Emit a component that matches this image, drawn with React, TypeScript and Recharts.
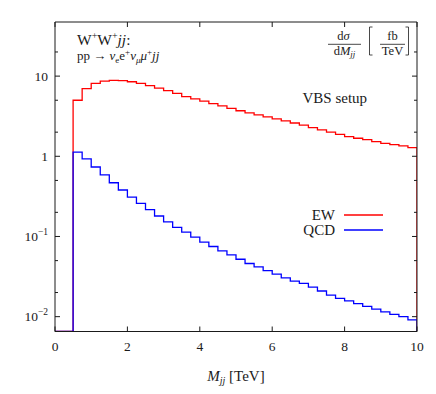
import React from "react";
import { LineChart, Line, XAxis, YAxis, Legend } from "recharts";

// lower bin edges [TeV], bin width 0.25
const binLow = [
  0.5, 0.75, 1.0, 1.25, 1.5, 1.75, 2.0, 2.25, 2.5, 2.75,
  3.0, 3.25, 3.5, 3.75, 4.0, 4.25, 4.5, 4.75, 5.0, 5.25,
  5.5, 5.75, 6.0, 6.25, 6.5, 6.75, 7.0, 7.25, 7.5, 7.75,
  8.0, 8.25, 8.5, 8.75, 9.0, 9.25, 9.5, 9.75,
];

// dσ/dMjj [fb/TeV]
const ewValues = [
  5.0, 7.0, 8.1, 8.66, 8.84, 8.8, 8.5, 8.1, 7.6, 7.1,
  6.6, 6.1, 5.55, 5.2, 4.87, 4.55, 4.26, 3.95, 3.7, 3.48,
  3.29, 3.1, 2.93, 2.76, 2.6, 2.45, 2.28, 2.13, 2.0, 1.88,
  1.76, 1.68, 1.61, 1.52, 1.45, 1.4, 1.35, 1.28,
];
const qcdValues = [
  1.13, 0.926, 0.735, 0.585, 0.468, 0.38, 0.31, 0.259, 0.216, 0.18,
  0.152, 0.13, 0.113, 0.098, 0.085, 0.075, 0.066, 0.059, 0.052, 0.046,
  0.0417, 0.0376, 0.0339, 0.0304, 0.0277, 0.026, 0.0233, 0.0209, 0.0186, 0.0169,
  0.0157, 0.0145, 0.0134, 0.0124, 0.0115, 0.0107, 0.01, 0.0091,
];

const xTicks = [0, 2, 4, 6, 8, 10];
const yMajor = [0.01, 0.1, 1, 10];
const yMinor = [0.008, 0.02, 0.05, 0.08, 0.2, 0.5, 0.8, 2, 5, 8, 20];
const yLabels: Record<string, [string, string]> = {
  "0.01": ["10", "−2"],
  "0.1": ["10", "−1"],
  "1": ["1", ""],
  "10": ["10", ""],
};

const seriesColors: Record<string, string> = { EW: "#ff0000", QCD: "#0000ff" };

const X_MIN = 0, X_MAX = 10;
const Y_MIN = 0.00653, Y_MAX = 47.3;

const W = 428, H = 386;
const FONT = "'Liberation Serif', serif";
const INK = "#1a1a1a";

// histogram outline: start on the floor, step through bins, drop back to floor
const rows = [
  { m: X_MIN, ew: Y_MIN, qcd: Y_MIN },
  ...binLow.map((m, i) => ({ m, ew: ewValues[i], qcd: qcdValues[i] })),
  { m: X_MAX, ew: ewValues[ewValues.length - 1], qcd: qcdValues[qcdValues.length - 1] },
  { m: X_MAX, ew: Y_MIN, qcd: Y_MIN },
];

const yTicks = [...yMajor, ...yMinor].sort((a, b) => a - b);
const tickLen = (v: number) => (yMajor.includes(v) ? 5 : 3);

function LeftTick({ x, y, payload }: any) {
  const v = payload.value;
  const lab = yLabels[String(v)];
  return (
    <g>
      <line x1={x} x2={x + tickLen(v)} y1={y} y2={y} stroke={INK} strokeWidth={1} />
      {lab && (
        <text x={x - 7} y={y + 4.5} textAnchor="end" fontFamily={FONT} fontSize={13.5} fill={INK}>
          {lab[0]}
          {lab[1] && <tspan fontSize={9.5} dy={-6}>{lab[1]}</tspan>}
        </text>
      )}
    </g>
  );
}

function RightTick({ x, y, payload }: any) {
  return <line x1={x} x2={x - tickLen(payload.value)} y1={y} y2={y} stroke={INK} strokeWidth={1} />;
}

function BottomTick({ x, y, payload }: any) {
  return (
    <g>
      <line x1={x} x2={x} y1={y} y2={y - 5} stroke={INK} strokeWidth={1} />
      <text x={x} y={y + 19.5} textAnchor="middle" fontFamily={FONT} fontSize={13.5} fill={INK}>
        {payload.value}
      </text>
    </g>
  );
}

function TopTick({ x, y }: any) {
  return <line x1={x} x2={x} y1={y} y2={y + 5} stroke={INK} strokeWidth={1} />;
}

function KeyBox({ payload }: any) {
  return (
    <div style={{ fontFamily: FONT, fontSize: 15, color: INK }}>
      {(payload || []).map((p: any) => (
        <div key={p.value} style={{ display: "flex", alignItems: "center", height: 14.5 }}>
          <span style={{ width: 40, textAlign: "right", lineHeight: "14px" }}>{p.value}</span>
          <svg width={39} height={4} style={{ marginLeft: 9, display: "block" }}>
            <line x1={0} x2={39} y1={2} y2={2} stroke={seriesColors[p.value] || p.color} strokeWidth={1.5} />
          </svg>
        </div>
      ))}
    </div>
  );
}

export default function App() {
  return (
    <div style={{ position: "relative", width: W, height: H }}>
      <LineChart
        width={W}
        height={H}
        data={rows}
        margin={{ top: 13, right: 18, left: 0, bottom: 0 }}
      >
        <XAxis
          dataKey="m"
          type="number"
          domain={[X_MIN, X_MAX]}
          ticks={xTicks}
          allowDataOverflow
          height={62.5}
          tickSize={0}
          tickMargin={0}
          tickLine={false}
          tick={<BottomTick />}
          axisLine={{ stroke: INK, strokeWidth: 1 }}
        />
        <XAxis
          xAxisId="top"
          orientation="top"
          dataKey="m"
          type="number"
          domain={[X_MIN, X_MAX]}
          ticks={xTicks}
          allowDataOverflow
          height={1}
          tickSize={0}
          tickMargin={0}
          tickLine={false}
          tick={<TopTick />}
          axisLine={{ stroke: INK, strokeWidth: 1 }}
        />
        <YAxis
          scale="log"
          type="number"
          domain={[Y_MIN, Y_MAX]}
          ticks={yTicks}
          allowDataOverflow
          width={47}
          tickSize={0}
          tickMargin={0}
          tickLine={false}
          tick={<LeftTick />}
          axisLine={{ stroke: INK, strokeWidth: 1 }}
        />
        <YAxis
          yAxisId="right"
          orientation="right"
          scale="log"
          type="number"
          domain={[Y_MIN, Y_MAX]}
          ticks={yTicks}
          allowDataOverflow
          width={1}
          tickSize={0}
          tickMargin={0}
          tickLine={false}
          tick={<RightTick />}
          axisLine={{ stroke: INK, strokeWidth: 1 }}
        />
        <Legend
          layout="vertical"
          align="center"
          verticalAlign="middle"
          content={<KeyBox />}
          wrapperStyle={{ left: 287, top: 200, width: 100 }}
        />
        <Line
          dataKey="ew"
          name="EW"
          type="stepAfter"
          stroke={seriesColors.EW}
          strokeWidth={1.3}
          dot={false}
          isAnimationActive={false}
        />
        <Line
          dataKey="qcd"
          name="QCD"
          type="stepAfter"
          stroke={seriesColors.QCD}
          strokeWidth={1.3}
          dot={false}
          isAnimationActive={false}
        />
      </LineChart>

      {/* annotations */}
      <svg
        width={W}
        height={H}
        style={{ position: "absolute", left: 0, top: 0, pointerEvents: "none" }}
        fontFamily={FONT}
        fill={INK}
      >
        <text x={69} y={36.5} fontSize={15.5}>
          W<tspan fontSize={10} dy={-6}>+</tspan>
          <tspan dy={6}>W</tspan><tspan fontSize={10} dy={-6}>+</tspan>
          <tspan dy={6} fontStyle="italic">jj</tspan>:
        </text>
        <text x={69} y={52} fontSize={13}>
          pp → <tspan fontStyle="italic">ν</tspan><tspan fontSize={9} dy={2.5}>e</tspan>
          <tspan dy={-2.5}>e</tspan><tspan fontSize={9} dy={-5}>+</tspan>
          <tspan dy={5} fontStyle="italic">ν</tspan><tspan fontSize={9} dy={2.5} fontStyle="italic">μ</tspan>
          <tspan dy={-2.5} fontStyle="italic">μ</tspan><tspan fontSize={9} dy={-5}>+</tspan>
          <tspan dy={5} fontStyle="italic">jj</tspan>
        </text>

        {/* dσ/dMjj [fb/TeV] */}
        <text x={335.5} y={32} fontSize={12.5} textAnchor="middle">
          d<tspan fontStyle="italic">σ</tspan>
        </text>
        <line x1={320} x2={353} y1={36.3} y2={36.3} stroke={INK} strokeWidth={0.8} />
        <text x={336.5} y={46.5} fontSize={12.5} textAnchor="middle">
          d<tspan fontStyle="italic">M</tspan><tspan fontSize={9} dy={2} fontStyle="italic">jj</tspan>
        </text>
        <path d="M364.5,19 H361.5 V47 H364.5" fill="none" stroke={INK} strokeWidth={0.8} />
        <text x={384.5} y={32} fontSize={12.5} textAnchor="middle">fb</text>
        <line x1={372} x2={397} y1={36.3} y2={36.3} stroke={INK} strokeWidth={0.8} />
        <text x={384.5} y={46.5} fontSize={12.5} textAnchor="middle">TeV</text>
        <path d="M397.5,19 H400.5 V47 H397.5" fill="none" stroke={INK} strokeWidth={0.8} />

        <text x={294.5} y={95} fontSize={15}>VBS setup</text>

        <text x={228} y={373} fontSize={15} textAnchor="middle">
          <tspan fontStyle="italic">M</tspan><tspan fontSize={10} dy={3} fontStyle="italic">jj</tspan>
          <tspan dy={-3}> [TeV]</tspan>
        </text>
      </svg>
    </div>
  );
}
